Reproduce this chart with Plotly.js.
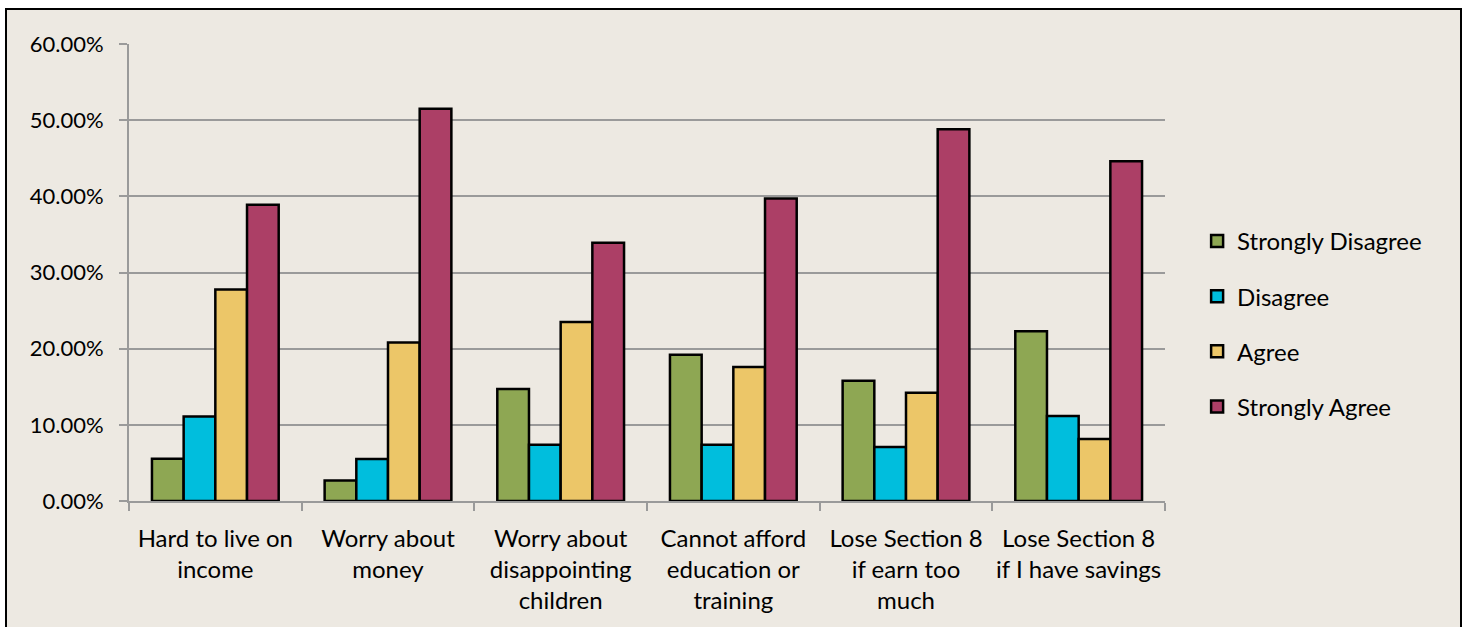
<!DOCTYPE html>
<html>
<head>
<meta charset="utf-8">
<script src="https://cdn.plot.ly/plotly-3.0.1.min.js"></script>
<style>
  html, body { margin: 0; padding: 0; background: #ffffff; overflow: hidden; }
  #frame { position: absolute; left: 5px; top: 8px; width: 1453px; height: 700px;
           border: 2px solid #000; background: #EDE9E2; }
  #chart { position: absolute; left: 0; top: 0; width: 1468px; height: 627px; }
</style>
</head>
<body>
<div id="frame"></div>
<div id="chart"></div>
<script>
// Survey statements (x categories)
const categories = [
  "Hard to live on<br>income",
  "Worry about<br>money",
  "Worry about<br>disappointing<br>children",
  "Cannot afford<br>education or<br>training",
  "Lose Section 8<br>if earn too<br>much",
  "Lose Section 8<br>if I have savings"
];

// Share of responses per statement
const stronglyDisagree = [0.0556, 0.0270, 0.1470, 0.1920, 0.1580, 0.2230];
const disagree         = [0.1111, 0.0553, 0.0737, 0.0737, 0.0710, 0.1117];
const agree            = [0.2778, 0.2080, 0.2350, 0.1760, 0.1420, 0.0815];
const stronglyAgree    = [0.3889, 0.5150, 0.3390, 0.3970, 0.4880, 0.4460];

const seriesNames  = ["Strongly Disagree", "Disagree", "Agree", "Strongly Agree"];
const seriesValues = [stronglyDisagree, disagree, agree, stronglyAgree];
const seriesColors = ["#8EA753", "#00BEDD", "#ECC668", "#AC3F66"];

const yTicks = [0, 0.1, 0.2, 0.3, 0.4, 0.5, 0.6];

const family = "Lato, 'Open Sans', sans-serif";
const font = { family: family, size: 24, color: "#000" };
const yFont = { family: family, size: 22, color: "#000" };

const traces = seriesNames.map((name, i) => ({
  type: "bar",
  name: name,
  x: categories,
  y: seriesValues[i],
  legendgroup: "g" + i,
  marker: { color: seriesColors[i], line: { color: "#000", width: 2.5 } },
  hoverinfo: "x+y+name"
}));

const layout = {
  width: 1468,
  height: 627,
  paper_bgcolor: "rgba(0,0,0,0)",
  plot_bgcolor: "rgba(0,0,0,0)",
  margin: { l: 129, r: 303, t: 44, b: 125.5, pad: 0 },
  font: font,
  barmode: "group",
  bargap: 0.266,
  bargroupgap: 0,
  showlegend: true,
  legend: {
    x: 1.031, xanchor: "left",
    y: 0.3876, yanchor: "middle",
    traceorder: "grouped",
    tracegroupgap: 21,
    font: font,
    bgcolor: "rgba(0,0,0,0)"
  },
  xaxis: {
    type: "category",
    showline: true, linecolor: "#9A9A9A", linewidth: 2,
    ticks: "outside", tickson: "boundaries", ticklen: 8, tickwidth: 2, tickcolor: "#9A9A9A",
    showgrid: false, zeroline: false,
    tickangle: 0,
    tickfont: font,
    ticklabelstandoff: 15
  },
  yaxis: {
    range: [0, 0.6],
    tickvals: yTicks,
    tickformat: ".2%",
    showline: true, linecolor: "#9A9A9A", linewidth: 2,
    ticks: "outside", ticklen: 8, tickwidth: 2, tickcolor: "#9A9A9A",
    showgrid: true, gridcolor: "#9A9A9A", gridwidth: 2,
    zeroline: false,
    tickfont: yFont,
    ticklabelstandoff: 11
  }
};

Plotly.newPlot("chart", traces, layout, { displayModeBar: false, staticPlot: true });
</script>
</body>
</html>
